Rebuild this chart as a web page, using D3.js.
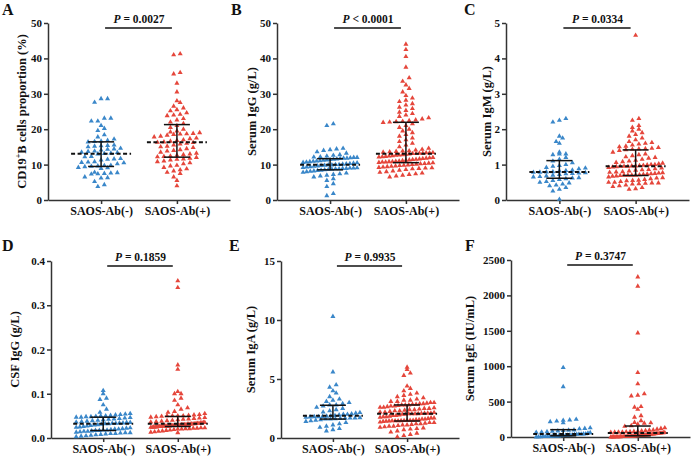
<!DOCTYPE html>
<html>
<head>
<meta charset="utf-8">
<script src="https://cdn.jsdelivr.net/npm/d3@7"></script>
<style>
  body { margin: 0; background: #fff; }
  svg { display: block; }
</style>
</head>
<body>
<div id="chart"></div>
<script>
// groups
const groups = ["SAOS-Ab(-)", "SAOS-Ab(+)"];

// A: CD19+B cells proportion (%)
const cd19Neg = [28.6,28.6,27.6,23.1,23.1,22.3,22.3,21,20.2,19.6,18.4,17.8,17.2,16.8,16.6,16.5,16.4,15.5,15.4,15.3,15.2,15,14.6,14.4,14.3,14.1,13.8,13.7,13.5,13.4,13.2,13.1,13.0,12.3,12.2,11.7,11.6,11.5,11.3,10.8,10.7,10.6,10.5,10.2,9.8,9.7,9.6,9.5,9.4,9.2,9.1,8.9,7.8,7.7,7.6,7.5,7.4,7.3,6.5,6.3,6.2,5.2,4.3,3.8];
const cd19Pos = [41.3,41,36,35.6,33,30.5,28,27.5,26.5,26,25.5,25.2,24.6,24.2,24,23.8,23,22.6,22,21.6,21,20.5,20,19.5,19.2,19,18.8,18.7,18.6,18.5,18.3,18,17.8,17.5,17.3,17,16.8,16.6,16.4,16.3,16.2,16,15.8,15.5,15.2,15,14.8,14.5,14.2,14,13.8,13.5,13.2,13,12.8,12.6,12.4,12.3,12.2,12,11.8,11.6,11.5,11.3,11,10.8,10.5,10.2,9.8,9.6,9.2,8.8,8.5,8.2,7.8,7.5,6.5,5.5,4];

// B: Serum IgG (g/L)
const iggNeg = [21.5,21,14.6,14.4,14.2,14,13.6,13.2,12.8,12.6,12.4,12.2,12.1,12,12,11.9,11.8,11.8,11.7,11.6,11.5,11.4,11.3,11.2,11.1,11,10.9,10.8,10.7,10.6,10.5,10.4,10.3,10.2,10.1,10,10,9.9,9.9,9.8,9.7,9.6,9.5,9.4,9.3,9.2,9.1,9,9,8.9,8.9,8.8,8.8,8.7,8.6,8.5,8.4,8.3,8.2,8.1,8,7.8,7.6,7.4,7.2,7,6.8,6.5,6,5.5,4.6,3.8,1.8,1.2];
const iggPos = [44,42.5,40.5,37.5,34.5,33.5,32.5,31.5,30.5,29.5,28.8,28.2,27.8,27.2,26.8,26.2,25.8,25.3,24.8,24.4,24,23.6,23.2,22.9,22.6,22.4,22.2,22.1,22,21.9,21.5,21,20.5,20,19.5,19,18.5,18,17.5,17,16.5,16,15.5,15,14.6,14.3,14.1,13.9,13.8,13.7,13.6,13.5,13.4,13.3,13.3,13.2,13.2,13.1,13.1,13,12.9,12.8,12.7,12.6,12.5,12.4,12.3,12.2,12.1,12,11.9,11.8,11.7,11.6,11.5,11.4,11.3,11.2,11.1,11,10.9,10.8,10.8,10.7,10.7,10.6,10.5,10.4,10.3,10.2,10.1,10,9.9,9.8,9.7,9.6,9.5,9.4,9.3,9.2,9.1,9,8.9,8.8,8.6,8.4,8.2,8,7.8,7.6,7.4,7.2,7,6.8,6.5];

// C: Serum IgM (g/L)
const igmNeg = [2.3,2.25,2.2,1.8,1.75,1.65,1.6,1.35,1.3,1.3,1.28,1.2,1.15,1.1,1.05,1,0.97,0.95,0.92,0.9,0.88,0.84,0.83,0.82,0.8,0.79,0.785,0.78,0.77,0.76,0.75,0.74,0.72,0.7,0.68,0.66,0.65,0.63,0.62,0.6,0.58,0.55,0.52,0.5,0.48,0.45,0.42,0.4,0.35,0.3,0.25,0.02];
const igmPos = [4.65,2.3,2.25,2.1,2.05,2,1.95,1.9,1.85,1.8,1.75,1.7,1.65,1.62,1.6,1.58,1.55,1.52,1.5,1.48,1.46,1.45,1.44,1.43,1.42,1.4,1.35,1.3,1.28,1.25,1.22,1.2,1.18,1.15,1.12,1.1,1.08,1.06,1.04,1.02,1,1,0.99,0.98,0.97,0.96,0.96,0.95,0.95,0.95,0.94,0.93,0.92,0.9,0.88,0.86,0.85,0.84,0.82,0.8,0.79,0.78,0.77,0.76,0.75,0.74,0.73,0.72,0.71,0.7,0.7,0.7,0.7,0.69,0.68,0.67,0.65,0.63,0.62,0.6,0.58,0.56,0.55,0.54,0.52,0.5,0.5,0.48,0.48,0.47,0.46,0.45,0.42,0.4,0.38,0.35,0.32,0.3];

// D: CSF IgG (g/L)
const csfNeg = [0.107,0.1,0.09,0.087,0.075,0.065,0.058,0.055,0.054,0.053,0.052,0.051,0.05,0.05,0.049,0.048,0.048,0.047,0.047,0.046,0.045,0.044,0.043,0.042,0.041,0.04,0.039,0.038,0.037,0.036,0.035,0.035,0.034,0.034,0.033,0.033,0.032,0.032,0.031,0.03,0.029,0.028,0.027,0.026,0.025,0.024,0.023,0.022,0.021,0.02,0.02,0.019,0.018,0.018,0.017,0.017,0.016,0.015,0.015,0.014,0.013,0.012,0.012,0.011,0.01,0.01,0.009,0.008,0.007,0.006,0.005,0.004,0.003];
const csfPos = [0.355,0.34,0.165,0.155,0.105,0.1,0.1,0.09,0.085,0.075,0.068,0.065,0.06,0.058,0.055,0.053,0.052,0.051,0.05,0.05,0.05,0.05,0.049,0.048,0.047,0.046,0.045,0.044,0.043,0.042,0.041,0.04,0.039,0.038,0.037,0.036,0.035,0.035,0.034,0.034,0.033,0.033,0.033,0.032,0.032,0.032,0.031,0.031,0.031,0.03,0.03,0.03,0.03,0.029,0.029,0.029,0.028,0.028,0.028,0.028,0.027,0.027,0.027,0.027,0.027,0.027,0.026,0.026,0.026,0.025,0.025,0.025,0.024,0.024,0.023,0.023,0.022,0.022,0.021,0.021,0.02,0.02,0.019,0.018,0.017,0.016,0.015,0.014,0.013,0.012];

// E: Serum IgA (g/L)
const igaNeg = [10.3,5.6,4.5,4.3,4,3.8,3.5,3.3,3.2,3.1,3,2.9,2.8,2.8,2.7,2.6,2.5,2.4,2.3,2.2,2.15,2.1,2.05,2,2,1.95,1.9,1.88,1.85,1.82,1.8,1.8,1.78,1.75,1.72,1.7,1.7,1.68,1.65,1.62,1.6,1.6,1.55,1.5,1.45,1.4,1.3,1.2,1.1,1,0.9,0.8,0.7,0.6];
const igaPos = [6,5.8,5.5,5.3,4.4,4.2,4,3.8,3.7,3.6,3.5,3.4,3.3,3.2,3.2,3.1,3.1,3,3,2.95,2.9,2.9,2.85,2.85,2.8,2.8,2.8,2.75,2.7,2.7,2.65,2.6,2.6,2.55,2.5,2.5,2.45,2.4,2.4,2.35,2.3,2.3,2.25,2.2,2.2,2.15,2.1,2.1,2.1,2.08,2.06,2.05,2.05,2.05,2,2,1.95,1.9,1.9,1.85,1.8,1.8,1.75,1.7,1.7,1.65,1.6,1.6,1.55,1.55,1.5,1.5,1.5,1.48,1.46,1.45,1.45,1.45,1.44,1.42,1.4,1.35,1.3,1.3,1.25,1.2,1.2,1.15,1.1,1.1,1.05,1,1,0.95,0.9,0.85,0.8,0.75,0.7,0.6,0.5,0.4,0.3,0.2,0.1];

// F: Serum IgE (IU/mL)
const igeNeg = [980,710,250,240,235,225,215,200,130,120,115,100,95,90,85,80,75,70,65,60,55,45,42,40,40,38,35,30,28,25,22,20,18,15,15,12,10,10,8,5,5,3,2,1];
const igePos = [2260,2130,1470,910,750,610,590,580,430,420,390,300,280,230,205,200,195,180,160,150,130,120,110,100,95,90,85,80,78,75,72,70,70,68,65,62,60,58,55,52,50,48,45,42,40,38,35,32,30,28,26,25,22,20,20,18,16,15,14,12,10,10,8,8,6,5,5,4,3,3,2,2,1,1,0];

const pLabels = ["= 0.0027", "< 0.0001", "= 0.0334", "= 0.1859", "= 0.9935", "= 0.3747"];

const width = 691;
const height = 458;
const blue = "#3a87c9";
const red = "#e5463b";
const axisColor = "#333";
const font = "'Liberation Serif', 'Times New Roman', serif";

const panels = [
  { letter: "A", neg: cd19Neg, pos: cd19Pos, max: 50, ticks: [0,10,20,30,40,50], fmt: d3.format("d"), p: pLabels[0],
    axisX: 48, xEnd: 230, top: 23, bottom: 200, titleOff: 25, lx: 2, ly: 15 },
  { letter: "B", neg: iggNeg, pos: iggPos, max: 50, ticks: [0,10,20,30,40,50], fmt: d3.format("d"), p: pLabels[1],
    axisX: 277, xEnd: 459, top: 23, bottom: 200, titleOff: 24, title: "Serum IgG (g/L)", lx: 231, ly: 15 },
  { letter: "C", neg: igmNeg, pos: igmPos, max: 5, ticks: [0,1,2,3,4,5], fmt: d3.format("d"), p: pLabels[2],
    axisX: 506, xEnd: 689, top: 23, bottom: 200, titleOff: 18, title: "Serum IgM (g/L)", lx: 464, ly: 15 },
  { letter: "D", neg: csfNeg, pos: csfPos, max: 0.4, ticks: [0,0.1,0.2,0.3,0.4], fmt: d3.format(".1f"), p: pLabels[3],
    axisX: 51, xEnd: 230, top: 261, bottom: 438, titleOff: 35, title: "CSF IgG (g/L)", lx: 2, ly: 251 },
  { letter: "E", neg: igaNeg, pos: igaPos, max: 15, ticks: [0,5,10,15], fmt: d3.format("d"), p: pLabels[4],
    axisX: 281, xEnd: 459, top: 261, bottom: 438, titleOff: 29, title: "Serum IgA (g/L)", lx: 229, ly: 251 },
  { letter: "F", neg: igeNeg, pos: igePos, max: 2500, ticks: [0,500,1000,1500,2000,2500], fmt: d3.format("d"), p: pLabels[5],
    axisX: 511, xEnd: 690, top: 260, bottom: 437, titleOff: 40, title: "Serum IgE (IU/mL)", lx: 465, ly: 251 }
];

const svg = d3.select("#chart")
  .append("svg")
  .attr("width", width)
  .attr("height", height)
  .style("font-family", font)
  .style("font-weight", "bold");

// Prism-like scatter: points binned into rows, each row spread evenly
// around the centre, squeezed when the row gets too wide
function swarm(values, y, cx, rowH, gap, maxHalf) {
  const rows = d3.group(values.map(v => ({ v, y: y(v) })), d => Math.round(d.y / rowH));
  const pts = [];
  rows.forEach(row => {
    const n = row.length;
    const s = n > 1 ? Math.min(gap, (2 * maxHalf) / (n - 1)) : 0;
    row.sort((a, b) => a.v - b.v).forEach((d, i) => {
      pts.push({ v: d.v, y: d.y, x: cx + (i - (n - 1) / 2) * s });
    });
  });
  return pts;
}

const triangle = d3.symbol().type(d3.symbolTriangle).size(11);

panels.forEach(pn => {
  const g = svg.append("g");

  const y = d3.scaleLinear().domain([0, pn.max]).range([pn.bottom, pn.top]);
  const x = d3.scalePoint().domain(groups).range([pn.axisX, pn.xEnd]).padding(0.7);

  // axes
  const yAxis = g.append("g")
    .attr("transform", `translate(${pn.axisX},0)`)
    .call(d3.axisLeft(y).tickValues(pn.ticks).tickFormat(pn.fmt).tickSize(4).tickSizeOuter(0));
  const xAxis = g.append("g")
    .attr("transform", `translate(0,${pn.bottom})`)
    .call(d3.axisBottom(x).tickSize(4).tickSizeOuter(0));

  [yAxis, xAxis].forEach(a => {
    a.select(".domain").attr("stroke", axisColor).attr("stroke-width", 1.5);
    a.selectAll(".tick line").attr("stroke", axisColor).attr("stroke-width", 1.5);
    a.selectAll("text")
      .attr("fill", "#111")
      .style("font-family", font)
      .style("font-weight", "bold");
  });
  yAxis.selectAll("text").style("font-size", "11px").attr("x", -6);
  xAxis.selectAll("text").style("font-size", "12px").attr("y", 6);

  // y title
  const title = g.append("text")
    .attr("transform", `translate(${pn.axisX - pn.titleOff},${(pn.top + pn.bottom) / 2}) rotate(-90)`)
    .attr("text-anchor", "middle")
    .attr("dominant-baseline", "middle")
    .style("font-size", "12.5px")
    .attr("fill", "#111");
  if (pn.letter === "A") {
    title.append("tspan").text("CD19");
    title.append("tspan").text("+").attr("dy", -4).style("font-size", "8px");
    title.append("tspan").text("B cells proportion (%)").attr("dy", 4);
  } else {
    title.text(pn.title);
  }

  // panel letter
  g.append("text")
    .attr("x", pn.lx)
    .attr("y", pn.ly)
    .style("font-size", "16px")
    .attr("fill", "#111")
    .text(pn.letter);

  // points
  [[pn.neg, groups[0], blue], [pn.pos, groups[1], red]].forEach(([vals, grp, col]) => {
    const pts = swarm(vals, y, x(grp), 5, 6.5, 27);
    g.append("g")
      .selectAll("path")
      .data(pts)
      .join("path")
      .attr("d", triangle)
      .attr("transform", d => `translate(${d.x},${d.y})`)
      .attr("fill", col);

    const sorted = vals.slice().sort(d3.ascending);
    const med = d3.quantile(sorted, 0.5);
    const q1 = d3.quantile(sorted, 0.25);
    const q3 = d3.quantile(sorted, 0.75);
    const cx = x(grp);

    // IQR bar
    g.append("line")
      .attr("x1", cx).attr("x2", cx)
      .attr("y1", y(q1)).attr("y2", y(q3))
      .attr("stroke", "#111").attr("stroke-width", 1.5);
    [q1, q3].forEach(q => {
      g.append("line")
        .attr("x1", cx - 13).attr("x2", cx + 13)
        .attr("y1", y(q)).attr("y2", y(q))
        .attr("stroke", "#111").attr("stroke-width", 1.5);
    });
    // median dashed
    g.append("line")
      .attr("x1", cx - 30).attr("x2", cx + 30)
      .attr("y1", y(med)).attr("y2", y(med))
      .attr("stroke", "#111").attr("stroke-width", 2)
      .attr("stroke-dasharray", "4,2.5");
  });

  // significance line
  const lineY = pn.top + 5;
  g.append("line")
    .attr("x1", x(groups[0]) + 4).attr("x2", x(groups[1]) - 5)
    .attr("y1", lineY).attr("y2", lineY)
    .attr("stroke", "#111").attr("stroke-width", 1.5);
  const pt = g.append("text")
    .attr("x", (x(groups[0]) + x(groups[1])) / 2)
    .attr("y", lineY - 5)
    .attr("text-anchor", "middle")
    .style("font-size", "11.5px")
    .attr("fill", "#111");
  pt.append("tspan").text("P").style("font-style", "italic");
  pt.append("tspan").text(" " + pn.p);
});
</script>
</body>
</html>
